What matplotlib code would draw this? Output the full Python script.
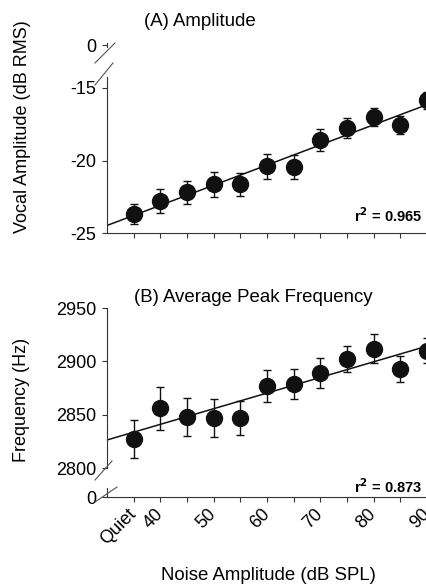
import numpy as np
import matplotlib
matplotlib.use("Agg")
import matplotlib.pyplot as plt
from matplotlib.lines import Line2D

plt.rcParams['font.family'] = ['Liberation Sans', 'DejaVu Sans']
plt.rcParams['axes.unicode_minus'] = False

# ---------------- data ----------------
categories = ["Quiet", "40", "45", "50", "55", "60", "65", "70", "75", "80", "85", "90"]
tick_labels = ["Quiet", "40", "", "50", "", "60", "", "70", "", "80", "", "90"]

amp_mean = [-23.7, -22.8, -22.2, -21.65, -21.65, -20.4, -20.45, -18.6, -17.75, -17.0, -17.55, -15.85]
amp_err = [0.7, 0.85, 0.8, 0.85, 0.8, 0.85, 0.8, 0.75, 0.7, 0.6, 0.6, 0.6]

freq_mean = [2827, 2856, 2848, 2847, 2847, 2877, 2879, 2889, 2902, 2912, 2893, 2910]
freq_err = [18, 20, 18, 18, 16, 15, 14, 14, 12, 14, 12, 12]

amp_r2 = "0.965"
freq_r2 = "0.873"

# ---------------- layout helpers ----------------
W, H = 427, 584
fig = plt.figure(figsize=(W / 100, H / 100), dpi=100)


def rect(left, top, right, bottom):
    return [left / W, 1 - bottom / H, (right - left) / W, (bottom - top) / H]


def fx(px):
    return px / W


def fy(py):
    return 1 - py / H


UNIT = 26.67
X0 = 107
XR = X0 + 13 * UNIT
x = np.arange(1, len(categories) + 1)
SP_COL = '#333333'
TICK_FS = 13


def style(ax, show_bottom):
    for s in ['top', 'right']:
        ax.spines[s].set_visible(False)
    ax.spines['bottom'].set_visible(show_bottom)
    for s in ['left', 'bottom']:
        ax.spines[s].set_color(SP_COL)
        ax.spines[s].set_linewidth(0.8)
    ax.tick_params(direction='out', length=3.5, width=0.8, color=SP_COL,
                   labelsize=TICK_FS, pad=4)
    ax.set_xlim(0, 13)
    ax.patch.set_alpha(0)


def draw_series(ax, mean, err):
    ax.errorbar(x, mean, yerr=err, fmt='o', color='#111111', ms=11.5,
                ecolor='#111111', elinewidth=1.0, capsize=3, capthick=1.0,
                clip_on=False, zorder=3)
    k, b = np.polyfit(x, mean, 1)
    xl = np.array([0, 13])
    ax.plot(xl, k * xl + b, color='#111111', lw=1.1, zorder=2)


# ---------------- panel A ----------------
axA = fig.add_axes(rect(X0, 77, XR, 233))
style(axA, True)
axA.set_ylim(-25, -25 + (233 - 77) / 14.5)
axA.set_yticks([-25, -20, -15])
axA.set_xticks(np.arange(1, 14))
axA.set_xticklabels([])
draw_series(axA, amp_mean, amp_err)

axA0 = fig.add_axes(rect(X0, 43, XR, 47))
style(axA0, False)
axA0.set_ylim(-1, 1)
axA0.set_yticks([0])
axA0.set_xticks([])

# ---------------- panel B ----------------
axB = fig.add_axes(rect(X0, 308, XR, 468))
style(axB, False)
axB.set_ylim(2800, 2950)
axB.set_yticks([2800, 2850, 2900, 2950])
axB.set_xticks([])
draw_series(axB, freq_mean, freq_err)

axB0 = fig.add_axes(rect(X0, 488, XR, 497))
style(axB0, True)
axB0.set_ylim(0, 1)
axB0.set_yticks([0])
axB0.set_xticks(np.arange(1, 14))
axB0.set_xticklabels(tick_labels + [""], rotation=45, ha='right', va='center',
                     rotation_mode='anchor')
axB0.tick_params(axis='x', pad=7)

# ---------------- break marks ----------------
for (x1, y1, x2, y2) in [(95, 63, 115, 43), (95, 85, 113, 63),
                         (95, 480, 112, 461), (95, 502, 117, 487)]:
    fig.add_artist(Line2D([fx(x1), fx(x2)], [fy(y1), fy(y2)],
                          color='#555555', lw=0.8, transform=fig.transFigure))

# ---------------- texts ----------------
fig.text(fx(200), fy(22), "(A) Amplitude", ha='center', va='center', fontsize=13.4)
fig.text(fx(253), fy(297), "(B) Average Peak Frequency", ha='center', va='center',
         fontsize=13.4)
fig.text(fx(23), fy(127), "Vocal Amplitude (dB RMS)", rotation=90, ha='center',
         va='center', fontsize=13)
fig.text(fx(22), fy(400), "Frequency (Hz)", rotation=90, ha='center', va='center',
         fontsize=13)
fig.text(fx(268), fy(575), "Noise Amplitude (dB SPL)", ha='center', va='center',
         fontsize=13.4)
fig.text(fx(422), fy(216), "r$^\\mathbf{2}$ = " + amp_r2, ha='right', va='center',
         fontsize=10.5, fontweight='bold')
fig.text(fx(422), fy(487), "r$^\\mathbf{2}$ = " + freq_r2, ha='right', va='center',
         fontsize=10.5, fontweight='bold')

fig.savefig("out.png", dpi=100)
